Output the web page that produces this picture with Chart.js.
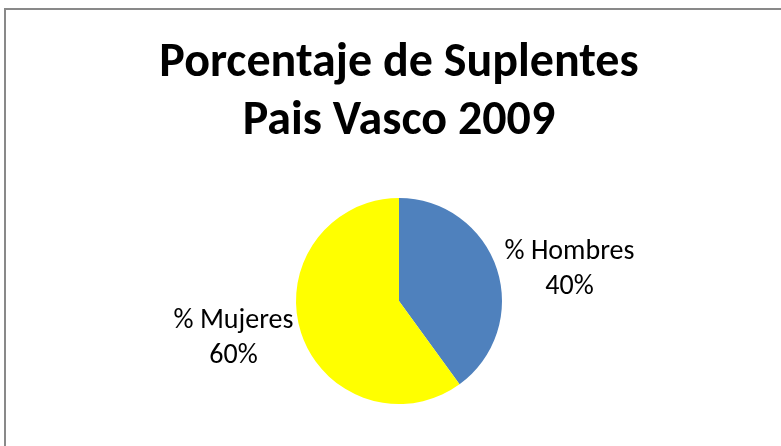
<!DOCTYPE html>
<html>
<head>
<meta charset="utf-8">
<script src="https://cdn.jsdelivr.net/npm/chart.js@4.4.0/dist/chart.umd.min.js"></script>
<style>
  html, body { margin: 0; padding: 0; background: #ffffff; }
  canvas { display: block; }
</style>
</head>
<body>
<canvas id="c" width="781" height="446"></canvas>
<script>
const titleLines = ['Porcentaje de Suplentes', 'Pais Vasco 2009'];
const categories = ['% Hombres', '% Mujeres'];
const values = [40, 60];
const sliceColors = ['#4F81BD', '#FFFF00'];

const FONT = "Carlito, Calibri, Lato, 'Liberation Sans', sans-serif";

const framePlugin = {
  id: 'frame',
  beforeDraw(chart) {
    const ctx = chart.ctx;
    ctx.save();
    ctx.fillStyle = '#ffffff';
    ctx.fillRect(0, 0, chart.width, chart.height);
    ctx.strokeStyle = '#898989';
    ctx.lineWidth = 2;
    ctx.beginPath();
    ctx.moveTo(5, chart.height + 5);
    ctx.lineTo(5, 9);
    ctx.lineTo(chart.width + 5, 9);
    ctx.stroke();
    // title
    ctx.fillStyle = '#000000';
    ctx.textAlign = 'center';
    ctx.textBaseline = 'alphabetic';
    ctx.font = "bold 48px " + FONT;
    ctx.fillText(titleLines[0], 399, 76);
    ctx.fillText(titleLines[1], 399, 134);
    ctx.restore();
  }
};

const labelPlugin = {
  id: 'sliceLabels',
  afterDatasetsDraw(chart) {
    const ctx = chart.ctx;
    const meta = chart.getDatasetMeta(0);
    const data = chart.data.datasets[0].data;
    const total = data.reduce((a, b) => a + b, 0);
    ctx.save();
    ctx.fillStyle = '#000000';
    ctx.font = "28px " + FONT;
    ctx.textBaseline = 'middle';
    meta.data.forEach((arc, i) => {
      const mid = (arc.startAngle + arc.endAngle) / 2;
      const r = arc.outerRadius + 8;
      const px = arc.x + Math.cos(mid) * r;
      const py = arc.y + Math.sin(mid) * r + 3;
      const lines = [chart.data.labels[i], Math.round(data[i] / total * 100) + '%'];
      const w = Math.max(...lines.map(l => ctx.measureText(l).width));
      const left = Math.cos(mid) >= 0 ? px : px - w;
      const cx = left + w / 2;
      const lh = 34.5;
      ctx.textAlign = 'center';
      lines.forEach((l, k) => {
        ctx.fillText(l, cx, py + (k - (lines.length - 1) / 2) * lh);
      });
    });
    ctx.restore();
  }
};

new Chart(document.getElementById('c'), {
  type: 'pie',
  data: {
    labels: categories,
    datasets: [{
      data: values,
      backgroundColor: sliceColors,
      borderWidth: 0
    }]
  },
  options: {
    responsive: false,
    animation: false,
    layout: { padding: { top: 198, bottom: 42, left: 17, right: 0 } },
    plugins: {
      legend: { display: false },
      title: { display: false },
      tooltip: { enabled: false }
    }
  },
  plugins: [framePlugin, labelPlugin]
});
</script>
</body>
</html>
